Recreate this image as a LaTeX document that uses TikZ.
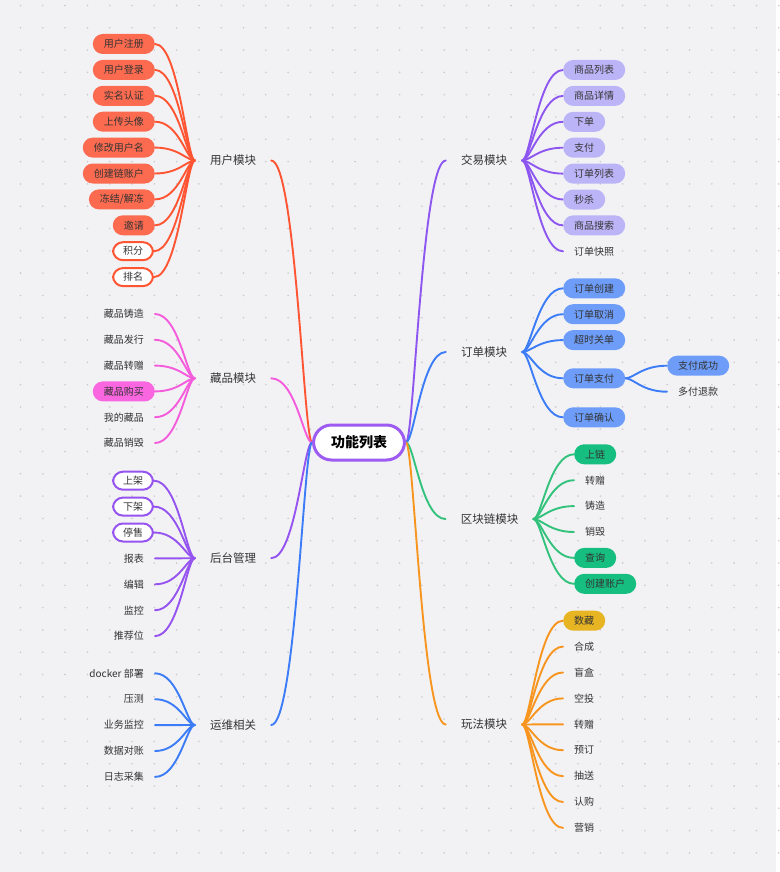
\documentclass[tikz,border=0pt]{standalone}
\usepackage{fontspec}
\setmainfont{Noto Sans CJK SC}
\usetikzlibrary{calc}
\pgfdeclarelayer{back}
\pgfdeclarelayer{links}
\pgfsetlayers{back,links,main}
\definecolor{bgc}{HTML}{F2F2F5}
\definecolor{dotc}{HTML}{CACACF}
\definecolor{txt}{HTML}{333333}
\definecolor{cred}{HTML}{FF5533}
\definecolor{credbox}{HTML}{FC6B50}
\definecolor{cpink}{HTML}{F45CDC}
\definecolor{cpinkbox}{HTML}{F966DF}
\definecolor{cpur}{HTML}{9553EF}
\definecolor{cblue}{HTML}{3C7CF6}
\definecolor{cpur2}{HTML}{8D56F0}
\definecolor{clav}{HTML}{BBB5F8}
\definecolor{cbluebox}{HTML}{6E9DF9}
\definecolor{cgreen}{HTML}{33C27B}
\definecolor{cgreenbox}{HTML}{16BE80}
\definecolor{corange}{HTML}{F7951F}
\definecolor{cyellow}{HTML}{E7B523}
\definecolor{ccenter}{HTML}{9D5BF1}
\newcommand\mmlink[3]{%
  \draw[lk=#1] let \p1=(#2), \p2=(#3) in
    (\p1) .. controls ({\x1+0.2*(\x2-\x1)},\y1) and ({\x2-0.6*(\x2-\x1)},\y2) .. (\p2);}
\begin{document}
\begin{tikzpicture}[x=1pt,y=-1pt,
  lf/.style={inner xsep=11pt, inner ysep=0pt, minimum height=20pt, rounded corners=10pt,
    font=\fontsize{10}{12}\selectfont, text=txt},
  lfL/.style={lf, anchor=east},
  lfR/.style={lf, anchor=west},
  fb/.style={fill=#1},
  ob/.style={draw=#1, line width=2pt, fill=white, inner xsep=10pt, minimum height=18pt},
  mod/.style={inner xsep=15pt, inner ysep=3pt, font=\fontsize{11.5}{13}\selectfont, text=txt},
  lk/.style={draw=#1, line width=1.9pt, line cap=round}]
\begin{pgfonlayer}{back}
  \fill[bgc] (0,0) rectangle (776,872);
  \foreach \i in {0,...,34} \foreach \j in {0,...,38}
    \fill[dotc] ({20.5+22.3*\i},{5.5+22.3*\j}) circle[radius=0.9pt];
\end{pgfonlayer}
\useasboundingbox (0,0) rectangle (776,872);

% center
\node[draw=ccenter, line width=3pt, fill=white, rounded corners=18pt, minimum width=91pt,
  minimum height=35pt, font=\fontsize{14}{16}\selectfont\bfseries, text=black] (c0) at (359,442.5) {功能列表};

% modules
\node[mod] (m1) at (233,160.5) {用户模块};
\node[mod] (m2) at (233,378.3) {藏品模块};
\node[mod] (m3) at (233,558.2) {后台管理};
\node[mod] (m4) at (233,725) {运维相关};
\node[mod] (m5) at (484,160.5) {交易模块};
\node[mod] (m6) at (484,352) {订单模块};
\node[mod] (m7) at (489.5,519) {区块链模块};
\node[mod] (m8) at (484,724.5) {玩法模块};

% 用户模块
\node[lfL, fb=credbox] (u1) at (155,44) {用户注册};
\node[lfL, fb=credbox] (u2) at (155,69.9) {用户登录};
\node[lfL, fb=credbox] (u3) at (155,95.8) {实名认证};
\node[lfL, fb=credbox] (u4) at (155,121.7) {上传头像};
\node[lfL, fb=credbox] (u5) at (155,147.6) {修改用户名};
\node[lfL, fb=credbox] (u6) at (155,173.5) {创建链账户};
\node[lfL, fb=credbox] (u7) at (155,199.4) {冻结/解冻};
\node[lfL, fb=credbox] (u8) at (155,225.3) {邀请};
\node[lfL, ob=cred] (u9) at (154,251.2) {积分};
\node[lfL, ob=cred] (u10) at (154,277.1) {排名};

% 藏品模块
\node[lfL] (c1) at (155,314) {藏品铸造};
\node[lfL] (c2) at (155,339.8) {藏品发行};
\node[lfL] (c3) at (155,365.6) {藏品转赠};
\node[lfL, fb=cpinkbox] (c4) at (155,391.4) {藏品购买};
\node[lfL] (c5) at (155,417.2) {我的藏品};
\node[lfL] (c6) at (155,443) {藏品销毁};

% 后台管理
\node[lfL, ob=cpur] (h1) at (154,480.7) {上架};
\node[lfL, ob=cpur] (h2) at (154,506.6) {下架};
\node[lfL, ob=cpur] (h3) at (154,532.5) {停售};
\node[lfL] (h4) at (155,558.4) {报表};
\node[lfL] (h5) at (155,584.3) {编辑};
\node[lfL] (h6) at (155,610.2) {监控};
\node[lfL] (h7) at (155,636.1) {推荐位};

% 运维相关
\node[lfL] (o1) at (155,673.3) {docker 部署};
\node[lfL] (o2) at (155,699.2) {压测};
\node[lfL] (o3) at (155,725.1) {业务监控};
\node[lfL] (o4) at (155,751) {数据对账};
\node[lfL] (o5) at (155,776.9) {日志采集};

% 交易模块
\node[lfR, fb=clav] (t1) at (563,70) {商品列表};
\node[lfR, fb=clav] (t2) at (563,95.9) {商品详情};
\node[lfR, fb=clav] (t3) at (563,121.8) {下单};
\node[lfR, fb=clav] (t4) at (563,147.7) {支付};
\node[lfR, fb=clav] (t5) at (563,173.6) {订单列表};
\node[lfR, fb=clav] (t6) at (563,199.5) {秒杀};
\node[lfR, fb=clav] (t7) at (563,225.4) {商品搜索};
\node[lfR] (t8) at (563,251.3) {订单快照};

% 订单模块
\node[lfR, fb=cbluebox] (d1) at (563,288.3) {订单创建};
\node[lfR, fb=cbluebox] (d2) at (563,314.2) {订单取消};
\node[lfR, fb=cbluebox] (d3) at (563,340.1) {超时关单};
\node[lfR, fb=cbluebox] (d4) at (563,378.3) {订单支付};
\node[lfR, fb=cbluebox] (d5) at (563,417.3) {订单确认};
\node[lfR, fb=cbluebox] (p1) at (667,365.7) {支付成功};
\node[lfR] (p2) at (667,391.7) {多付退款};

% 区块链模块
\node[lfR, fb=cgreenbox] (b1) at (574,454.3) {上链};
\node[lfR] (b2) at (574,480.2) {转赠};
\node[lfR] (b3) at (574,506.1) {铸造};
\node[lfR] (b4) at (574,532) {销毁};
\node[lfR, fb=cgreenbox] (b5) at (574,557.9) {查询};
\node[lfR, fb=cgreenbox] (b6) at (574,583.8) {创建账户};

% 玩法模块
\node[lfR, fb=cyellow] (w1) at (563,620.7) {数藏};
\node[lfR] (w2) at (563,646.6) {合成};
\node[lfR] (w3) at (563,672.5) {盲盒};
\node[lfR] (w4) at (563,698.4) {空投};
\node[lfR] (w5) at (563,724.3) {转赠};
\node[lfR] (w6) at (563,750.2) {预订};
\node[lfR] (w7) at (563,776.1) {抽送};
\node[lfR] (w8) at (563,802) {认购};
\node[lfR] (w9) at (563,827.9) {营销};

\begin{pgfonlayer}{links}
  \mmlink{cred}{c0.west}{m1.east}
  \mmlink{cpink}{c0.west}{m2.east}
  \mmlink{cpur}{c0.west}{m3.east}
  \mmlink{cblue}{c0.west}{m4.east}
  \mmlink{cpur2}{c0.east}{m5.west}
  \mmlink{cblue}{c0.east}{m6.west}
  \mmlink{cgreen}{c0.east}{m7.west}
  \mmlink{corange}{c0.east}{m8.west}
  \foreach \k in {1,...,10} {\mmlink{cred}{m1.west}{u\k.east}}
  \foreach \k in {1,...,6} {\mmlink{cpink}{m2.west}{c\k.east}}
  \foreach \k in {1,...,7} {\mmlink{cpur}{m3.west}{h\k.east}}
  \foreach \k in {1,...,5} {\mmlink{cblue}{m4.west}{o\k.east}}
  \foreach \k in {1,...,8} {\mmlink{cpur2}{m5.east}{t\k.west}}
  \foreach \k in {1,...,5} {\mmlink{cblue}{m6.east}{d\k.west}}
  \foreach \k in {1,2} {\mmlink{cblue}{d4.east}{p\k.west}}
  \foreach \k in {1,...,6} {\mmlink{cgreen}{m7.east}{b\k.west}}
  \foreach \k in {1,...,9} {\mmlink{corange}{m8.east}{w\k.west}}
\end{pgfonlayer}
\end{tikzpicture}
\end{document}
